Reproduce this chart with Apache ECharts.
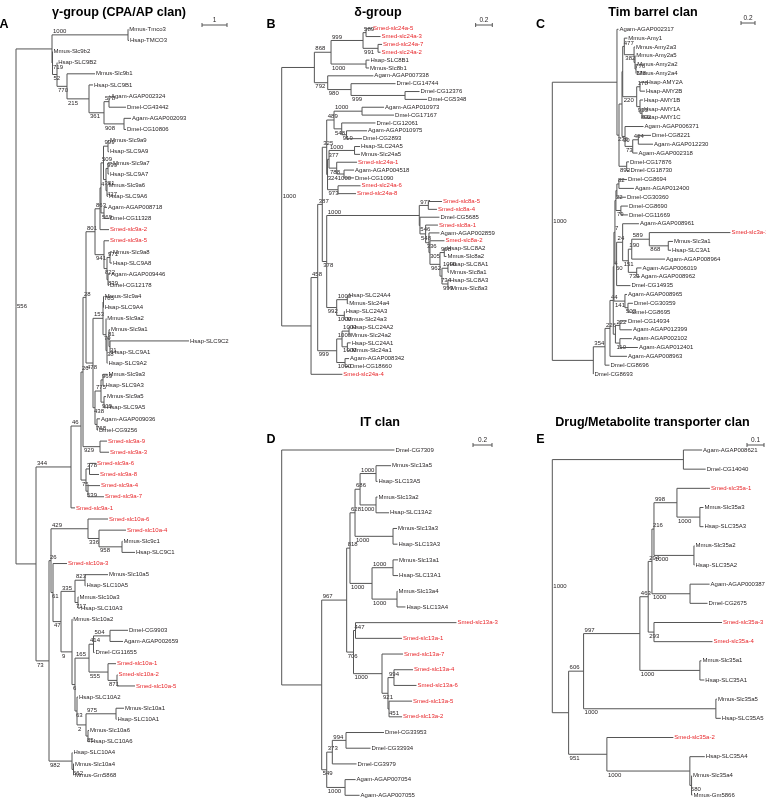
<!DOCTYPE html>
<html><head><meta charset="utf-8">
<script src="https://cdn.jsdelivr.net/npm/echarts@6/dist/echarts.min.js"></script>
<style>html,body{margin:0;padding:0;background:#fff}#c{width:766px;height:799px}</style>
</head><body><div id="c"></div>
<script>
// ---------------- DATA: trees as clades (Newick pieces; #key = nested clade) ----------------
const cladesA = [
 ['root','(#top,#n36)556'],
 ['top','((Mmus-Tmco3:0.01,Hsap-TMCO3:0.04)1000:3.04,#l):1.44'],
 ['l','(Mmus-Slc9b2:0.004,#l2)719:0.02'],
 ['l2','(Hsap-SLC9B2:0.008,#l3)52:0.18'],
 ['l3','(Mmus-Slc9b1:1.12,#l4)770:0.4'],
 ['l4','(Hsap-SLC9B1:0.16,#m104)215:0.88'],
 ['m104','((Agam-AGAP002324:0.04,Dmel-CG43442:0.68)578:0.2,(Agam-AGAP002093:0.28,Dmel-CG10806:0.08)908:0.8)361:0.6'],
 ['n36','(#n71,#n49):0.8'],
 ['n71','(#n81,Smed-slc9a-1:0.16)344:1.4'],
 ['n81','(#n83,#z)46:0.4'],
 ['n83','(#n86,(Smed-slc9a-9:0.28,Smed-slc9a-3:0.36)929:0.68)26:0.08'],
 ['n86','(#n95,#u)28:0.12'],
 ['n95','(#r,#s)801:0.36'],
 ['r','(#q,Smed-slc9a-2:0.36)863:0.2'],
 ['q','(#p,(Agam-AGAP008718:0.12,Dmel-CG11328:0.2)569:0.12)4:0.04'],
 ['p','((Mmus-Slc9a9:0.04,Hsap-SLC9A9:0.04)999:0.18,((Mmus-Slc9a7:0.16,Hsap-SLC9A7:0.04)999:0.08,(Mmus-Slc9a6:0.02,Hsap-SLC9A6:0.04)427:0.04)381:0.1)509:0.1'],
 ['s','(Smed-slc9a-5:0.2,((Mmus-Slc9a8:0.08,Hsap-SLC9A8:0.08)971:0.12,(Agam-AGAP009446:0.08,Dmel-CG12178:0.04)839:0.04)822:0.12)941:0.36'],
 ['u','(#v,#k2)478:0.28'],
 ['v','((Mmus-Slc9a4:0.01,Hsap-SLC9A4:0.01)785:0.02,#m1)153:0.4'],
 ['m1','(Mmus-Slc9a2:0.01,#m2)79:0.12'],
 ['m2','(#m3,Hsap-SLC9A2:0.02)38:0.04'],
 ['m3','(Mmus-Slc9a1:0.04,(Hsap-SLC9C2:3.16,Hsap-SLC9A1:0.04)21:0.04)81:0.08'],
 ['k2','(#k1,(Agam-AGAP009036:0.12,Dmel-CG9256:0.04)768:0.08)438:0.08'],
 ['k1','((Mmus-Slc9a3:0.18,Hsap-SLC9A3:0.06)969:0.08,(Mmus-Slc9a5:0.08,Hsap-SLC9A5:0.08)909:0.12)775:0.24'],
 ['z','((Smed-slc9a-6:0.26,Smed-slc9a-8:0.38)378:0.14,(Smed-slc9a-4:0.48,Smed-slc9a-7:0.64)539:0.08)75:0.2'],
 ['n49','(#w51,#low)73:0.52'],
 ['w51','(#c429,#w53)26:0.08'],
 ['c429','(Smed-slc10a-6:0.8,(Smed-slc10a-4:1.08,(Mmus-Slc9c1:0.02,Hsap-SLC9C1:0.52)958:0.92)336:0.44)429:1.48'],
 ['w53','(Smed-slc10a-3:0.56,#w61)61:0.08'],
 ['w61','(#p75,#v72)47:0.32'],
 ['p75','((Mmus-Slc10a5:0.92,Hsap-SLC10A5:0.02)823:0.4,(Mmus-Slc10a3:0.02,Hsap-SLC10A3:0.08)717:0.12)335:0.56'],
 ['v72','(Mmus-Slc10a2:0.01,#v75)9:0.44'],
 ['v75','(#p89,#p4)6:0.12'],
 ['p89','(((Dmel-CG9903:0.72,Agam-AGAP002659:0.52)504:0.66,Dmel-CG11655:0.04)414:0.18,(Smed-slc10a-1:0.32,(Smed-slc10a-2:0.02,Smed-slc10a-5:0.72)871:0.36)555:0.76)165:0.56'],
 ['p4','(Hsap-SLC10A2:0.04,((Mmus-Slc10a1:0.32,Hsap-SLC10A1:0.02)975:1.2,(Mmus-Slc10a6:0.04,Hsap-SLC10A6:0.08)85:0.08)2:0.36)63:0.08'],
 ['low','(Hsap-SLC10A4:0.02,(Mmus-Slc10a4:0.02,Mmus-Gm5868:0.02)562:0.06)982:0.92']
];
const cladesB = [
 ['root','(#tb,#bb)1000'],
 ['tb','(#b1,#b2):0.392'],
 ['b1','((#b111,#b112)999:0.384,(Hsap-SLC8B1:0.042,Mmus-Slc8b1:0.036)1000:0.42)868:0.2'],
 ['b111','(Smed-slc24a-5:0.072,Smed-slc24a-3:0.174)589:0.036'],
 ['b112','(Smed-slc24a-7:0.048,Smed-slc24a-2:0.03)991:0.18'],
 ['b2','(Agam-AGAP007338:0.548,(Dmel-CG14744:0.534,(Dmel-CG12376:0.174,Dmel-CG5348:0.264)999:0.648)980:0.28)792:0.16'],
 ['bb','(#bu,Smed-slc24a-4:0.376):0.352'],
 ['bu','(#bu1,#bul)458:0.08'],
 ['bu1','(#bu1a,#bu1b)387:0.055'],
 ['bu1a','(#n489,#n324)325:0.053'],
 ['n489','((Agam-AGAP010973:0.264,Dmel-CG17167:0.384)1000:0.336,(Dmel-CG12061:0.405,(Agam-AGAP010975:0.246,Dmel-CG2893:0.186)919:0.058)548:0.092)489:0.088'],
 ['n324','(#y3,(Smed-slc24a-6:0.27,Smed-slc24a-8:0.216)973:0.126)324:0.01'],
 ['y3','((Hsap-SLC24A5:0.066,Mmus-Slc24a5:0.066)1000:0.306,(Smed-slc24a-1:0.244,(Agam-AGAP004518:0.12,Dmel-CG1090:0.12)1000:0.088)788:0.092)377:0.018'],
 ['bu1b','(#s0,#n992)378:0.053'],
 ['s0','((Smed-slc8a-5:0.164,Smed-slc8a-4:0.104)977:0.108,#s2)1000:1.111'],
 ['s2','(Dmel-CG5685:0.234,#s3)546:0.008'],
 ['s3','(Smed-slc8a-1:0.148,#s4)548:0.068'],
 ['s4','(Agam-AGAP002859:0.126,#s5)336:0.04'],
 ['s5','(Smed-slc8a-2:0.174,#s6)305:0.012'],
 ['s6','((Hsap-SLC8A2:0.02,Mmus-Slc8a2:0.026)998:0.052,#s7)962:0.12'],
 ['s7','((Hsap-SLC8A1:0.012,Mmus-Slc8a1:0.012)1000:0.072,(Hsap-SLC8A3:0.012,Mmus-Slc8a3:0.024)999:0.072)734:0.024'],
 ['n992','((Hsap-SLC24A4:0.008,Mmus-Slc24a4:0.012)1000:0.127,(Hsap-SLC24A3:0.005,Mmus-Slc24a3:0.017)1000:0.091)992:0.12'],
 ['bul','(((Hsap-SLC24A2:0.02,Mmus-Slc24a2:0.012)1000:0.084,(Hsap-SLC24A1:0.04,Mmus-Slc24a1:0.04)1000:0.064)1000:0.064,(Agam-AGAP008342:0.048,Dmel-CG18660:0.048)1000:0.1)999:0.228']
];
const cladesC = [
 ['root','(#ct,#cb)1000'],
 ['ct','(Agam-AGAP002317:0.021,#ct2):0.924'],
 ['ct2','(#g4,(Dmel-CG17876:0.033,Dmel-CG18730:0.04)892:0.11)236:0.029'],
 ['g4','(#amy,#g3):0.043'],
 ['amy','(#amyup,#hamy):0.01'],
 ['amyup','(Mmus-Amy1:0.043,(Mmus-Amy2a3:0.014,(Mmus-Amy2a5:0.004,(Mmus-Amy2a2:0.004,Mmus-Amy2a4:0.004)178:0.014)776:0.014)382:0.139)477:0.023'],
 ['hamy','((Hsap-AMY2A:0.079,Hsap-AMY2B:0.071)178:0.047,(Hsap-AMY1B:0.043,(Hsap-AMY1A:0.014,Hsap-AMY1C:0.014)802:0.029)933:0.047)220:0.2'],
 ['g3','(Agam-AGAP006371:0.264,((Dmel-CG8221:0.181,Agam-AGAP012230:0.21)464:0.08,Agam-AGAP002318:0.069)73:0.11)30:0.043'],
 ['cb','(#x354,Dmel-CG8693:0.003):0.586'],
 ['x354','(#x226,Dmel-CG8696:0.064)354:0.167'],
 ['x226','(#x44,Agam-AGAP008963:0.243)226:0.071'],
 ['x44','(#xa,#xb)44:0.047'],
 ['xa','(#f8,#xa2)4:0.01'],
 ['f8','(#emid,#f7)7:0.014'],
 ['emid','(((Dmel-CG8694:0.114,Agam-AGAP012400:0.214)82:0.029,Dmel-CG30360:0.129):0.014,(Dmel-CG8690:0.1,Dmel-CG11669:0.1)79:0.071)22:0.014'],
 ['f7','((Agam-AGAP008961:0.233,#f3p)24:0.086,Dmel-CG14935:0.197)60:0.024'],
 ['f3p','(((Smed-slc3a-1:1.159,(Mmus-Slc3a1:0.067,Hsap-SLC3A1:0.039)868:0.271)589:0.251,Agam-AGAP008964:0.476)190:0.049,(Agam-AGAP006019:0.069,Agam-AGAP008962:0.047)733:0.12)151:0.081'],
 ['xa2','(Agam-AGAP008965:0.029,(Dmel-CG30359:0.071,Dmel-CG8695:0.043)502:0.043)141:0.157'],
 ['xb','((Dmel-CG14934:0.1,Agam-AGAP012399:0.171)222:0.064,(Agam-AGAP002102:0.171,Agam-AGAP012401:0.257)110:0.064):0.031']
];
const cladesD = [
 ['root','(Dmel-CG7309:1.187,#rd2)'],
 ['rd2','(#u967,#l549):0.421'],
 ['u967','(#u818,#u706)967:0.263'],
 ['u818','(#q2,#q5)818:0.035'],
 ['q2','(((Mmus-Slc13a5:0.158,Hsap-SLC13A5:0.016)1000:0.168,(Mmus-Slc13a2:0.016,Hsap-SLC13A2:0.137)1000:0.168)686:0.053,(Mmus-Slc13a3:0.042,Hsap-SLC13A3:0.047)1000:0.4)628:0.053'],
 ['q5','((Mmus-Slc13a1:0.053,Hsap-SLC13A1:0.053)1000:0.221,(Mmus-Slc13a4:0.005,Hsap-SLC13A4:0.089)1000:0.263)1000:0.232'],
 ['u706','((Smed-slc13a-3:1.063,Smed-slc13a-1:0.489)447:0.021,(Smed-slc13a-7:0.221,#v921)1000:0.3)706:0.072'],
 ['v921','((Smed-slc13a-4:0.2,Smed-slc13a-6:0.237)994:0.063,(Smed-slc13a-5:0.242,Smed-slc13a-2:0.137)451:0.011)921:0.063'],
 ['l549','(((Dmel-CG33953:0.4,Dmel-CG33934:0.258)994:0.144,Dmel-CG3979:0.255)373:0.059,(Agam-AGAP007054:0.111,Agam-AGAP007055:0.153)1000:0.193)549:0.053']
];
const cladesE = [
 ['root','(#e1,#e2)1000'],
 ['e1','(Agam-AGAP008621:0.11,Dmel-CG14040:0.131):0.771'],
 ['e2','(#e606,#e951):0.096'],
 ['e606','(#e997,(Mmus-Slc35a5:0.006,Hsap-SLC35A5:0.029)1000:0.778)606:0.088'],
 ['e997','(#e463,(Mmus-Slc35a1:0.009,Hsap-SLC35A1:0.026)1000:0.353)997:0.331'],
 ['e463','(#eu,(Smed-slc35a-3:0.4,Smed-slc35a-4:0.344)293:0.034)463:0.049'],
 ['eu','(#g216,(Agam-AGAP000387:0.115,Dmel-CG2675:0.103)1000:0.224)294:0.022'],
 ['g216','((Smed-slc35a-1:0.194,(Mmus-Slc35a3:0.021,Hsap-SLC35A3:0.021)1000:0.135)998:0.135,(Mmus-Slc35a2:0.003,Hsap-SLC35A2:0.003)1000:0.235)216:0.012'],
 ['e951','(Smed-slc35a-2:0.391,(Hsap-SLC35A4:0.088,(Mmus-Slc35a4:0.002,Mmus-Gm5866:0.005)580:0.01)1000:0.488)951:0.225']
];
const panelTitles = ['\u03b3-group (CPA/AP clan)', '\u03b4-group', 'Tim barrel clan', 'IT clan', 'Drug/Metabolite transporter clan'];
const panelLetters = ['A', 'B', 'C', 'D', 'E'];
const scaleBars = [1, 0.2, 0.2, 0.2, 0.1];

// ---------------- LAYOUT / STYLE ----------------
const layouts = [
 {left:16,    top:29.3, width:211,   height:745.7, xMax:8.44,  barY:25,  tx:119,   ty:13,  lx:4,     ly:25},
 {left:281.7, top:28.7, width:210.6, height:345.6, xMax:2.527, barY:25,  tx:378,   ty:13,  lx:271,   ly:25},
 {left:552.3, top:29.3, width:202.7, height:344.7, xMax:2.896, barY:23,  tx:653,   ty:13,  lx:540.5, ly:25},
 {left:281.7, top:450,  width:210.3, height:345.3, xMax:2.214, barY:445, tx:380,   ty:423, lx:271,   ly:440},
 {left:552.3, top:450,  width:211.7, height:345,   xMax:1.245, barY:445, tx:652.5, ty:423, lx:540.5, ly:440}
];
const LINE = '#555', TEXT = '#231f20', RED = '#e8262a';
const FAM = "'Liberation Sans', Arial, Helvetica, sans-serif";

// ---------------- TREE BUILDING ----------------
function expand(clades) {
  const map = Object.fromEntries(clades);
  const ex = s => s.replace(/#(\w+)/g, (_, k) => ex(map[k]));
  return ex(map.root).replace(/\s+/g, '');
}
function parseNewick(s) {
  let i = 0;
  function node() {
    const n = {children: [], name: '', len: 0};
    if (s[i] === '(') {
      i++;
      n.children.push(node());
      while (s[i] === ',') { i++; n.children.push(node()); }
      i++;
    }
    let lab = '';
    while (i < s.length && !',():;'.includes(s[i])) lab += s[i++];
    n.name = lab;
    if (s[i] === ':') {
      i++; let num = '';
      while (i < s.length && !',();'.includes(s[i])) num += s[i++];
      n.len = parseFloat(num);
    }
    return n;
  }
  return node();
}
function layoutTree(root) {
  const nodes = []; let leaf = 0;
  (function walk(n, parent, depth) {
    n.parent = parent; n.depth = depth; nodes.push(n);
    if (n.children.length) {
      n.children.forEach(c => walk(c, n, depth + c.len));
      n.y = (n.children[0].y + n.children[n.children.length - 1].y) / 2;
      n.isLeaf = false;
    } else { n.y = leaf++; n.isLeaf = true; }
  })(root, null, 0);
  return {nodes, nLeaves: leaf};
}

const trees = [cladesA, cladesB, cladesC, cladesD, cladesE].map(c => layoutTree(parseNewick(expand(c))));

function treeRender(nodes) {
  return function (params, api) {
    const n = nodes[params.dataIndex];
    const p = api.coord([n.depth, n.y]);
    const ls = {stroke: LINE, lineWidth: 1};
    const ch = [];
    if (n.parent) {
      const q = api.coord([n.parent.depth, n.y]);
      ch.push({type: 'line', shape: {x1: q[0], y1: p[1], x2: p[0], y2: p[1]}, style: ls});
      if (!n.isLeaf && n.name) {
        const above = n.parent.children[0] === n;
        ch.push({type: 'text', style: {text: n.name, x: q[0] + 1, y: above ? p[1] - 0.5 : p[1] + 1,
          align: 'left', verticalAlign: above ? 'bottom' : 'top', fontSize: 6, fontFamily: FAM, fill: TEXT}});
      }
    } else if (n.name) {
      ch.push({type: 'text', style: {text: n.name, x: p[0] + 1, y: p[1], align: 'left', verticalAlign: 'middle',
        fontSize: 6, fontFamily: FAM, fill: TEXT}});
    }
    if (!n.isLeaf) {
      const a = api.coord([n.depth, n.children[0].y]);
      const b = api.coord([n.depth, n.children[n.children.length - 1].y]);
      ch.push({type: 'line', shape: {x1: p[0], y1: a[1], x2: p[0], y2: b[1]}, style: ls});
    } else {
      ch.push({type: 'text', style: {text: n.name, x: p[0] + 1, y: p[1], align: 'left', verticalAlign: 'middle',
        fontSize: 6, fontFamily: FAM, fill: n.name.indexOf('Smed') === 0 ? RED : TEXT}});
    }
    return {type: 'group', children: ch};
  };
}
function barRender(L, len) {
  return function (params, api) {
    const x1 = api.coord([L.xMax - len, 0])[0], x2 = api.coord([L.xMax, 0])[0], y = L.barY;
    const ls = {stroke: LINE, lineWidth: 1};
    return {type: 'group', children: [
      {type: 'line', shape: {x1: x1, y1: y, x2: x2, y2: y}, style: ls},
      {type: 'line', shape: {x1: x1, y1: y - 2, x2: x1, y2: y + 2}, style: ls},
      {type: 'line', shape: {x1: x2, y1: y - 2, x2: x2, y2: y + 2}, style: ls},
      {type: 'text', style: {text: String(len), x: (x1 + x2) / 2, y: y - 1.5, align: 'center', verticalAlign: 'bottom',
        fontSize: 6.5, fontFamily: FAM, fill: TEXT}}
    ]};
  };
}

const series = [];
trees.forEach((t, i) => {
  series.push({type: 'custom', xAxisIndex: i, yAxisIndex: i, clip: false, silent: true,
    data: t.nodes.map(n => [n.depth, n.y]), renderItem: treeRender(t.nodes)});
  series.push({type: 'custom', xAxisIndex: i, yAxisIndex: i, clip: false, silent: true,
    data: [[layouts[i].xMax, 0]], renderItem: barRender(layouts[i], scaleBars[i])});
});

const graphic = [];
layouts.forEach((L, i) => {
  graphic.push({type: 'text', x: L.tx, y: L.ty, style: {text: panelTitles[i], align: 'center', verticalAlign: 'middle',
    fontSize: 12.6, fontWeight: 'bold', fontFamily: FAM, fill: '#000'}});
  graphic.push({type: 'text', x: L.lx, y: L.ly, style: {text: panelLetters[i], align: 'center', verticalAlign: 'middle',
    fontSize: 12.5, fontWeight: 'bold', fontFamily: FAM, fill: '#000'}});
});

const chart = echarts.init(document.getElementById('c'), null, {renderer: 'canvas'});
chart.setOption({
  animation: false,
  backgroundColor: '#fff',
  grid: layouts.map(L => ({left: L.left, top: L.top, width: L.width, height: L.height, containLabel: false})),
  xAxis: layouts.map((L, i) => ({type: 'value', gridIndex: i, min: 0, max: L.xMax, show: false})),
  yAxis: layouts.map((L, i) => ({type: 'value', gridIndex: i, min: 0, max: trees[i].nLeaves - 1, inverse: true, show: false})),
  series: series,
  graphic: graphic
});
</script></body></html>
